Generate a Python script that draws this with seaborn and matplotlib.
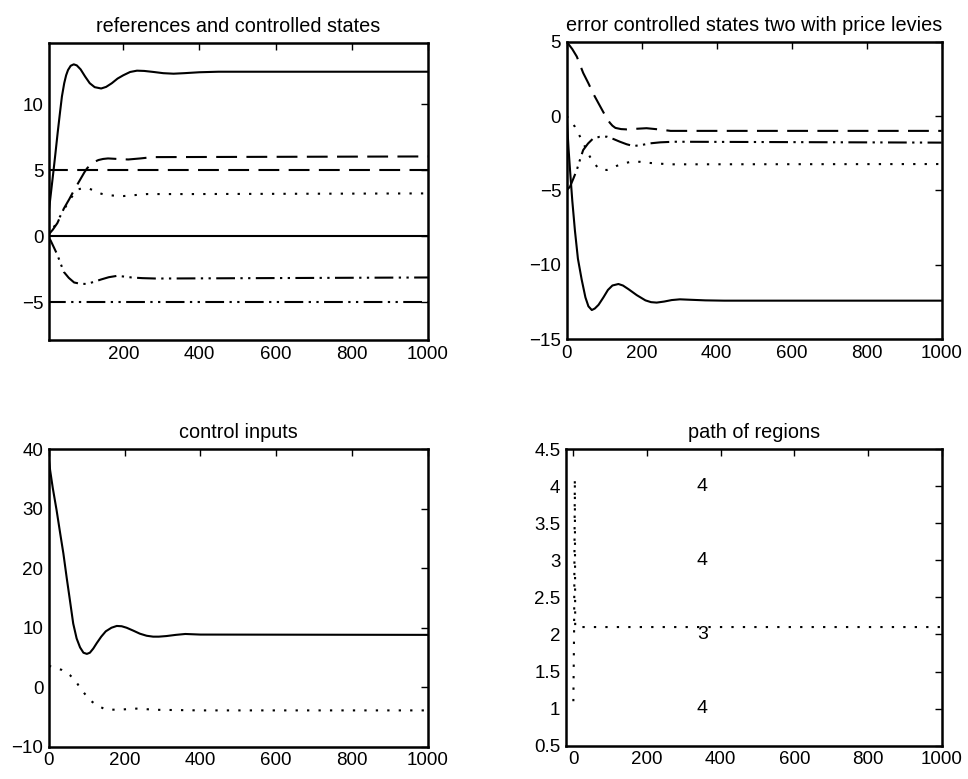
import numpy as np
import pandas as pd
import matplotlib
matplotlib.use("Agg")
import matplotlib.pyplot as plt
import seaborn as sns
from matplotlib.ticker import FuncFormatter

# ---------------- data ----------------
# Panel 1: references and controlled states
ref_levels = [0, 5, -5]                      # solid, dashed, dash-dot references
ref_t = [0, 1000]

s1_t = [0, 5, 11, 17, 22, 28, 34, 39, 45, 50, 55, 62, 70, 78, 88, 100, 112, 125,
        142, 155, 170, 185, 200, 218, 236, 255, 280, 305, 332, 360, 400, 450, 1000]
s1_y = [0.0, 2.0, 3.5, 5.0, 6.3, 7.9, 9.4, 10.6, 11.6, 12.2, 12.6, 12.92, 13.03,
        12.95, 12.65, 12.1, 11.6, 11.3, 11.2, 11.32, 11.6, 11.95, 12.2, 12.45, 12.55,
        12.53, 12.45, 12.36, 12.32, 12.36, 12.43, 12.47, 12.47]

s2_t = [0, 15, 27, 44, 58, 71, 85, 98, 105, 115, 125, 135, 147, 160, 185, 213, 245,
        277, 1000]
s2_y = [0.0, 0.5, 1.0, 2.1, 2.8, 3.5, 4.2, 4.85, 5.15, 5.45, 5.65, 5.78, 5.86, 5.9,
        5.86, 5.82, 5.9, 6.0, 6.05]

s3_t = [0, 5, 20, 40, 60, 80, 95, 109, 120, 130, 143, 157, 180, 201, 230, 262, 376,
        1000]
s3_y = [0.0, 0.1, 0.8, 1.8, 2.8, 3.55, 3.65, 3.63, 3.5, 3.35, 3.22, 3.13, 3.07,
        3.05, 3.12, 3.2, 3.2, 3.25]

s4_t = [0, 9, 18, 27, 36, 44, 57, 71, 88, 105, 123, 142, 162, 183, 202, 222, 250,
        286, 1000]
s4_y = [0.0, -0.3, -0.85, -1.4, -2.1, -2.7, -3.15, -3.5, -3.6, -3.61, -3.45, -3.27,
        -3.1, -3.0, -3.05, -3.12, -3.17, -3.2, -3.12]

# Panel 2: error controlled states
e1_t = [0, 5, 10, 15, 22, 30, 40, 50, 58, 67, 75, 85, 98, 110, 122, 138, 150, 165,
        187, 210, 225, 240, 260, 280, 302, 330, 370, 420, 1000]
e1_y = [0.0, -2.2, -4.0, -5.7, -7.7, -9.6, -11.0, -12.2, -12.8, -13.05, -12.95,
        -12.7, -12.2, -11.7, -11.4, -11.3, -11.4, -11.65, -12.05, -12.4, -12.52,
        -12.55, -12.48, -12.38, -12.33, -12.36, -12.4, -12.42, -12.42]

e2_t = [0, 15, 27, 44, 58, 71, 85, 98, 107, 115, 122, 130, 145, 160, 185, 213, 245,
        277, 1000]
e2_y = [5.0, 4.5, 4.0, 2.9, 2.2, 1.5, 0.85, 0.25, -0.15, -0.45, -0.65, -0.8, -0.88,
        -0.9, -0.86, -0.82, -0.9, -1.0, -1.0]

e3_t = [0, 10, 22, 40, 62, 84, 96, 107, 120, 133, 150, 173, 195, 213, 245, 277, 1000]
e3_y = [0.0, -0.3, -0.72, -1.6, -2.74, -3.52, -3.62, -3.63, -3.52, -3.36, -3.2,
        -3.07, -3.08, -3.14, -3.2, -3.25, -3.23]

e4_t = [0, 9, 18, 27, 36, 44, 57, 71, 88, 107, 125, 142, 160, 178, 200, 222, 250,
        286, 1000]
e4_y = [-5.0, -4.75, -4.2, -3.63, -2.9, -2.29, -1.85, -1.5, -1.4, -1.39, -1.55,
        -1.73, -1.9, -2.02, -1.95, -1.84, -1.77, -1.73, -1.79]

# Panel 3: control inputs
u1_t = [0, 3, 10, 20, 30, 38, 47, 54, 64, 73, 82, 91, 100, 108, 117, 126, 138, 150,
        165, 179, 192, 205, 223, 240, 258, 275, 290, 310, 335, 360, 400, 1000]
u1_y = [38.2, 36.5, 33.5, 29.8, 25.7, 22.5, 18.3, 15.2, 10.7, 8.2, 6.7, 5.8, 5.6,
        5.8, 6.5, 7.4, 8.5, 9.4, 10.0, 10.3, 10.25, 10.0, 9.5, 9.0, 8.65, 8.5, 8.5,
        8.6, 8.8, 8.95, 8.85, 8.8]

u2_t = [0, 7, 20, 34, 45, 55, 70, 82, 95, 108, 120, 130, 148, 170, 192, 231, 284,
        400, 1000]
u2_y = [3.6, 3.45, 3.2, 2.9, 2.5, 2.05, 1.1, -0.1, -1.15, -2.15, -2.75, -3.15, -3.7,
        -3.78, -3.75, -3.6, -3.8, -3.9, -3.9]

# Panel 4: path of regions
p_t = [0, 2, 4, 5, 1000]
p_y = [1.1, 2.05, 4.1, 2.1, 2.1]
lab_t = [350, 350, 350, 350]
lab_y = [4, 3, 2, 1]
lab_txt = ["4", "4", "3", "4"]

titles = ["references and controlled states",
          "error controlled states two with price levies",
          "control inputs",
          "path of regions"]

# ---------------- styling ----------------
sns.set_style("white")
plt.rcParams["font.family"] = ["Liberation Sans", "DejaVu Sans"]
plt.rcParams["axes.linewidth"] = 1.8
plt.rcParams["axes.edgecolor"] = "black"
plt.rcParams["text.color"] = "black"
plt.rcParams["axes.titlecolor"] = "black"
plt.rcParams["xtick.color"] = "black"
plt.rcParams["ytick.color"] = "black"

LW = 1.5
SOLID = "-"
DASH = (0, (10, 4.5))
DOT = (0, (1.1, 4.4))
DASHDOT = (0, (9, 2.6, 1.1, 2.6, 1.1, 2.6))

fig = plt.figure(figsize=(9.68, 7.79), dpi=100)
axes = [
    fig.add_axes([0.0506, 0.5635, 0.3915, 0.3817]),
    fig.add_axes([0.5854, 0.5648, 0.3874, 0.3817]),
    fig.add_axes([0.0506, 0.0415, 0.3912, 0.3817]),
    fig.add_axes([0.5847, 0.0427, 0.3881, 0.3809]),
]


def draw(ax, t, y, ls):
    df = pd.DataFrame({"t": t, "y": y})
    sns.lineplot(data=df, x="t", y="y", ax=ax, color="black", linewidth=LW,
                 linestyle=ls, estimator=None, sort=False)


# Panel 1
ax = axes[0]
for lvl, ls in zip(ref_levels, [SOLID, DASH, DASHDOT]):
    draw(ax, ref_t, [lvl, lvl], ls)
draw(ax, s1_t, s1_y, SOLID)
draw(ax, s2_t, s2_y, DASH)
draw(ax, s3_t, s3_y, DOT)
draw(ax, s4_t, s4_y, DASHDOT)
ax.set_xlim(5, 1000)
ax.set_ylim(-7.86, 14.67)
ax.set_xticks([200, 400, 600, 800, 1000])
ax.set_yticks([-5, 0, 5, 10])

# Panel 2
ax = axes[1]
draw(ax, e1_t, e1_y, SOLID)
draw(ax, e2_t, e2_y, DASH)
draw(ax, e3_t, e3_y, DOT)
draw(ax, e4_t, e4_y, DASHDOT)
ax.set_xlim(0, 1000)
ax.set_ylim(-15, 5)
ax.set_xticks([0, 200, 400, 600, 800, 1000])
ax.set_yticks([-15, -10, -5, 0, 5])

# Panel 3
ax = axes[2]
draw(ax, u1_t, u1_y, SOLID)
draw(ax, u2_t, u2_y, DOT)
ax.set_xlim(0, 1000)
ax.set_ylim(-10, 40)
ax.set_xticks([0, 200, 400, 600, 800, 1000])
ax.set_yticks([-10, 0, 10, 20, 30, 40])

# Panel 4
ax = axes[3]
draw(ax, p_t, p_y, DOT)
for tx, ty, s in zip(lab_t, lab_y, lab_txt):
    ax.text(tx, ty, s, ha="center", va="center", fontsize=14, color="black")
ax.set_xlim(-20, 1000)
ax.set_ylim(0.5, 4.5)
ax.set_xticks([0, 200, 400, 600, 800, 1000])
ax.set_yticks([0.5, 1, 1.5, 2, 2.5, 3, 3.5, 4, 4.5])
ax.yaxis.set_major_formatter(FuncFormatter(lambda v, p: f"{v:g}"))

for ax, title in zip(axes, titles):
    ax.set_title(title, fontsize=14.3, pad=8, color="black")
    ax.set_xlabel("")
    ax.set_ylabel("")
    ax.tick_params(direction="in", length=5, width=1.0, top=True, right=True,
                   labelsize=13.5, pad=4, colors="black")
    for sp in ax.spines.values():
        sp.set_visible(True)
        sp.set_color("black")
    if ax.get_legend() is not None:
        ax.get_legend().remove()

fig.savefig("out.png", dpi=100)
